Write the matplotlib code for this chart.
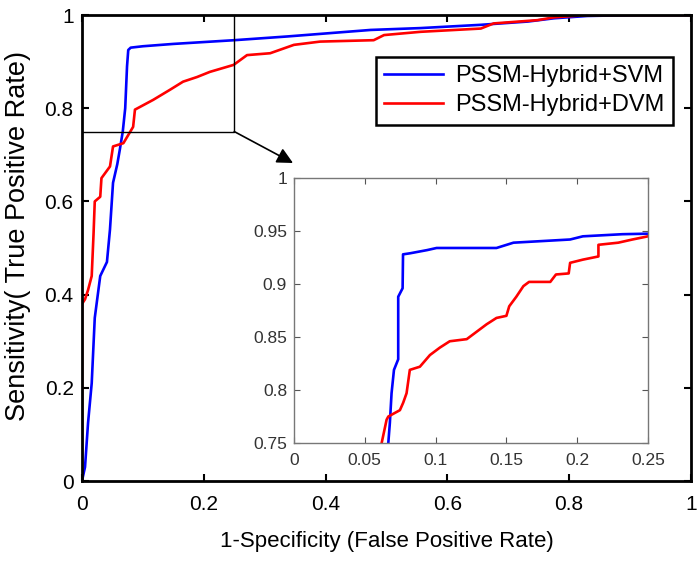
import matplotlib
matplotlib.use('Agg')
import matplotlib.pyplot as plt
from matplotlib.ticker import FuncFormatter

plt.rcParams['font.family'] = ['Liberation Sans', 'DejaVu Sans']

# ROC curves, main view
svm_fpr = [0, 0.005, 0.010, 0.016, 0.021, 0.030, 0.041, 0.046, 0.051, 0.058, 0.062, 0.067,
           0.071, 0.074, 0.076, 0.080, 0.100, 0.150, 0.200, 0.250, 0.337, 0.474, 0.556,
           0.655, 0.732, 0.775, 0.830, 0.913, 1.0]
svm_tpr = [0, 0.03, 0.125, 0.21, 0.35, 0.44, 0.47, 0.54, 0.64, 0.68, 0.71, 0.75,
           0.80, 0.89, 0.925, 0.93, 0.933, 0.938, 0.942, 0.946, 0.954, 0.968, 0.972,
           0.979, 0.986, 0.993, 0.998, 1.0, 1.0]

dvm_fpr = [0, 0, 0.005, 0.010, 0.016, 0.019, 0.021, 0.030, 0.032, 0.046, 0.051, 0.068,
           0.084, 0.087, 0.117, 0.145, 0.166, 0.189, 0.210, 0.249, 0.271, 0.309, 0.348,
           0.391, 0.479, 0.496, 0.556, 0.655, 0.676, 0.748, 0.775, 0.830, 1.0]
dvm_tpr = [0, 0.38, 0.39, 0.41, 0.44, 0.53, 0.60, 0.61, 0.65, 0.675, 0.718, 0.725,
           0.76, 0.797, 0.818, 0.84, 0.857, 0.867, 0.878, 0.893, 0.914, 0.918, 0.936,
           0.943, 0.946, 0.957, 0.964, 0.971, 0.982, 0.989, 0.995, 1.0, 1.0]

# ROC curves, zoomed inset
svm_fpr_zoom = [0.0666, 0.0677, 0.0689, 0.0706, 0.0736, 0.0736, 0.0767, 0.077, 0.082,
                0.094, 0.1007, 0.143, 0.155, 0.195, 0.204, 0.232, 0.25]
svm_tpr_zoom = [0.75, 0.769, 0.797, 0.819, 0.829, 0.888, 0.896, 0.928, 0.929,
                0.932, 0.934, 0.934, 0.939, 0.942, 0.945, 0.947, 0.9475]

dvm_fpr_zoom = [0.0619, 0.0654, 0.0666, 0.0748, 0.0771, 0.0795, 0.0818, 0.0889, 0.096,
                0.103, 0.110, 0.122, 0.129, 0.136, 0.143, 0.150, 0.152, 0.157, 0.162,
                0.166, 0.181, 0.185, 0.194, 0.195, 0.204, 0.215, 0.215, 0.229, 0.239, 0.25]
dvm_tpr_zoom = [0.75, 0.772, 0.775, 0.781, 0.788, 0.797, 0.819, 0.822, 0.833,
                0.840, 0.846, 0.848, 0.855, 0.862, 0.868, 0.870, 0.879, 0.888, 0.898,
                0.902, 0.902, 0.909, 0.910, 0.920, 0.923, 0.926, 0.937, 0.939, 0.942, 0.945]

main_ticks = [0, 0.2, 0.4, 0.6, 0.8, 1]
zoom_xticks = [0, 0.05, 0.1, 0.15, 0.2, 0.25]
zoom_yticks = [0.75, 0.8, 0.85, 0.9, 0.95, 1]

fig = plt.figure(figsize=(7, 5.63), dpi=100)
ax = fig.add_axes([0.1171, 0.1456, 0.870, 0.8277])

ax.plot(svm_fpr, svm_tpr, color='#0000ff', lw=1.9, label='PSSM-Hybrid+SVM')
ax.plot(dvm_fpr, dvm_tpr, color='#ff0000', lw=1.9, label='PSSM-Hybrid+DVM')
ax.set_xlim(0, 1)
ax.set_ylim(0, 1)
ax.set_xticks(main_ticks)
ax.set_yticks(main_ticks)
fmt = FuncFormatter(lambda v, p: '%g' % v)
ax.xaxis.set_major_formatter(fmt)
ax.yaxis.set_major_formatter(fmt)
ax.tick_params(direction='in', top=True, right=True, length=5, width=1.5,
               labelsize=15, pad=6)
ax.tick_params(axis='x', pad=10)
for s in ax.spines.values():
    s.set_linewidth(2)
ax.set_xlabel('1-Specificity (False Positive Rate)', fontsize=16, labelpad=12)
ax.set_ylabel('Sensitivity( True Positive Rate)', fontsize=19.5)
ax.yaxis.set_label_coords(-0.083, 0.526)

# zoom rectangle + arrow
ax.plot([0, 0.25, 0.25], [0.75, 0.75, 1], color='black', lw=1)
ax.annotate('', xy=(0.4186, 0.7105), xycoords='figure fraction',
            xytext=(0.25, 0.75), textcoords='data', annotation_clip=False,
            arrowprops=dict(arrowstyle='-|>', color='black', lw=1.2,
                            mutation_scale=24, shrinkA=0, shrinkB=0))

leg = ax.legend(loc='upper right', bbox_to_anchor=(0.970, 0.91), borderaxespad=0,
                fontsize=17, fancybox=False, framealpha=1, edgecolor='black',
                handlelength=2.5, borderpad=0.35, labelspacing=0.3, handletextpad=0.5)
leg.get_frame().set_linewidth(1.8)

# inset
axin = fig.add_axes([0.42, 0.2131, 0.5057, 0.4707])
axin.plot(svm_fpr_zoom, svm_tpr_zoom, color='#0000ff', lw=1.9)
axin.plot(dvm_fpr_zoom, dvm_tpr_zoom, color='#ff0000', lw=1.9)
axin.set_xlim(0, 0.25)
axin.set_ylim(0.75, 1)
axin.set_xticks(zoom_xticks)
axin.set_yticks(zoom_yticks)
axin.xaxis.set_major_formatter(fmt)
axin.yaxis.set_major_formatter(fmt)
axin.tick_params(direction='in', top=True, right=True, length=4, width=0.8,
                 labelsize=12.5, colors='#555555', labelcolor='#333333', pad=5)
axin.tick_params(axis='x', pad=7)
for s in axin.spines.values():
    s.set_linewidth(1)
    s.set_color('#777777')

fig.savefig('out.png', dpi=100)
